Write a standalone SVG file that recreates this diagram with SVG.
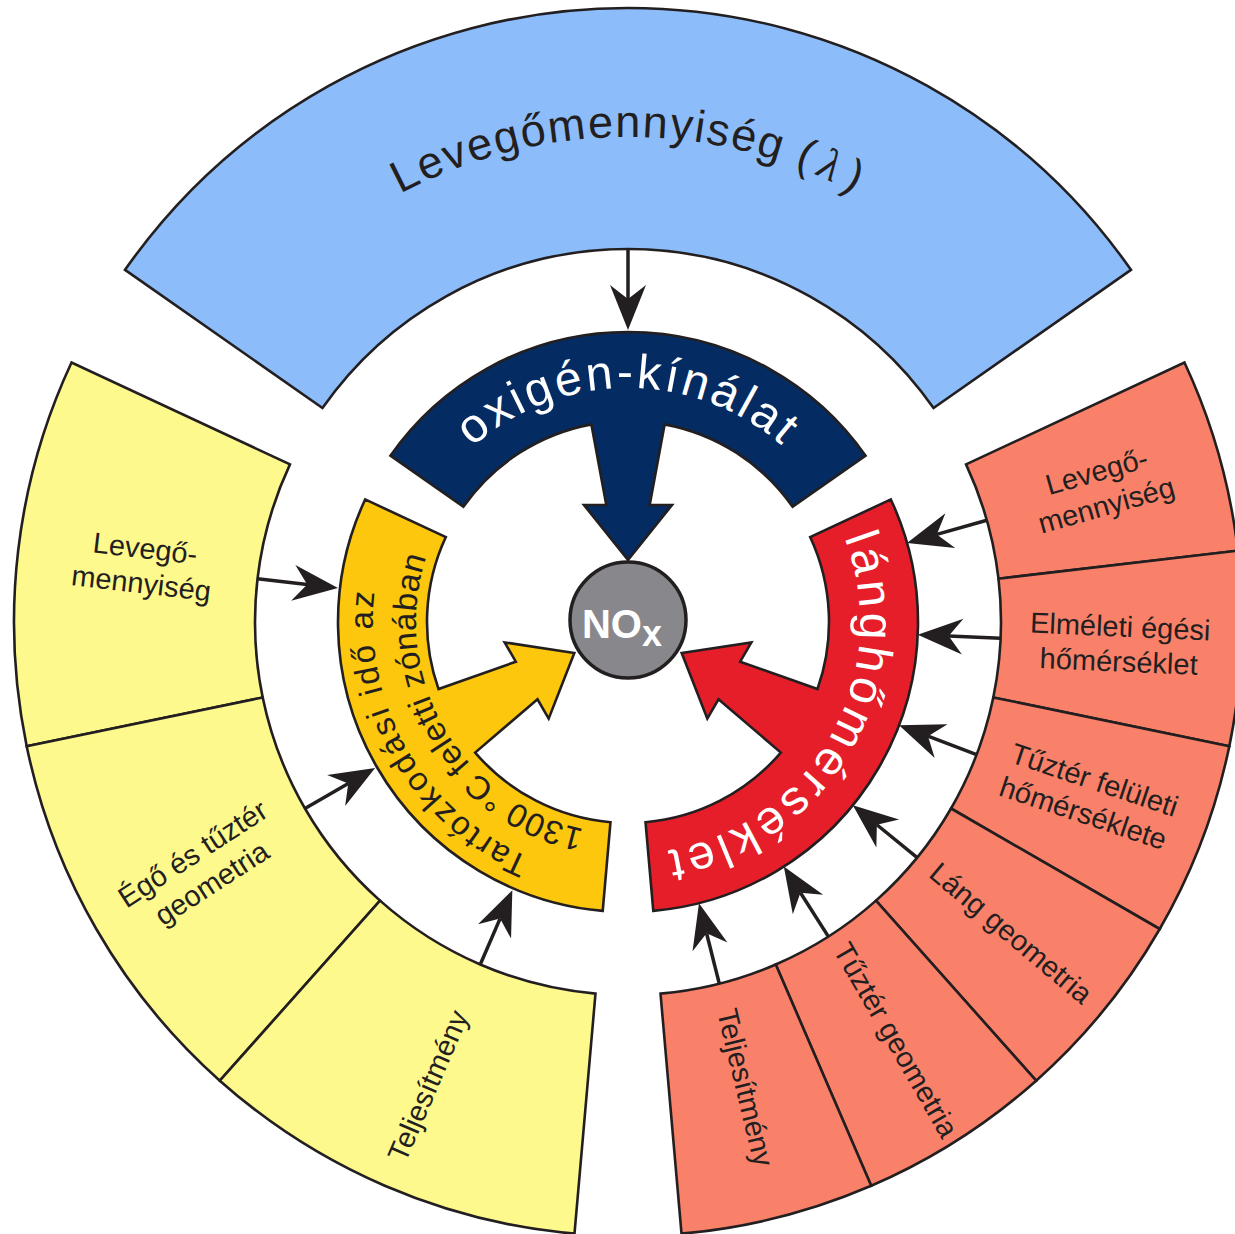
<svg xmlns="http://www.w3.org/2000/svg" xmlns:xlink="http://www.w3.org/1999/xlink" width="1235" height="1234" viewBox="0 0 1235 1234">
<style>
.cell{stroke:#231f20;stroke-width:2.6;stroke-linejoin:miter}
.blue{fill:#8cbdfa}.yel{fill:#fef98c}.sal{fill:#fa8169}
.lbl{font-family:"Liberation Sans",Arial,sans-serif;font-size:29px;fill:#231f20;text-anchor:middle}
.inner{font-family:"Liberation Sans",Arial,sans-serif;font-size:48px;fill:#ffffff}
.gold{font-family:"Liberation Sans",Arial,sans-serif;font-size:33px;fill:#231f20}
.con{stroke:#231f20;stroke-width:3.5;fill:none;marker-end:url(#ah)}
</style>
<defs>
<marker id="ah" viewBox="-46 -19 48 38" refX="-31" refY="0" markerWidth="48" markerHeight="38" markerUnits="userSpaceOnUse" orient="auto">
<path d="M0,0 L-45,-18 L-31,0 L-45,18 Z" fill="#231f20"/>
</marker>
<path id="iband" stroke="#231f20" stroke-width="2.6" stroke-linejoin="miter" d="M-237.55,-166.34 A290,290 0 0 1 237.55,-166.34 L164.65,-115.29 A201,201 0 0 0 36.63,-197.63 L21.69,-117 L44,-117 L0,-62 L-44,-117 L-21.69,-117 L-36.63,-197.63 A201,201 0 0 0 -164.65,-115.29 Z"/>
<path id="tp-top" d="M143,622 A485,485 0 0 1 1113,622"/>
<path id="tp-oxi" d="M394,622 A234,234 0 0 1 862,622"/>
<path id="tp-g1" d="M756,843.70 A256,256 0 0 1 500,400.30"/>
<path id="tp-g2" d="M734,805.60 A212,212 0 0 1 522,438.40"/>
<path id="tp-red" d="M744,420.95 A232,232 0 0 1 512,823.05"/>
</defs>

<g id="levegomennyiseg-lambda">
<path class="cell blue" d="M322.46,408.06 L125.04,269.82 A614,614 0 0 1 1130.96,269.82 L933.54,408.06 A373,373 0 0 0 322.46,408.06 Z"/>
<text font-family="Liberation Sans,Arial,sans-serif" font-size="45" fill="#231f20" letter-spacing="1.8"><textPath href="#tp-top" startOffset="50%" text-anchor="middle">Levegőmennyiség (<tspan font-family="Liberation Serif,serif" font-style="italic" dx="6">λ</tspan><tspan dx="7">)</tspan></textPath></text>
</g>

<g id="y-levego">
<path class="cell yel" d="M262.71,697.43 L26.69,746.16 A614,614 0 0 1 71.53,362.51 L289.95,464.36 A373,373 0 0 0 262.71,697.43 Z"/>
<text class="lbl" transform="translate(143.3,565.3) rotate(6.667)"><tspan x="0" y="-7">Levegő-</tspan><tspan x="0" y="28">mennyiség</tspan></text>
</g>
<g id="y-ego">
<path class="cell yel" d="M380.03,900.64 L219.82,1080.67 A614,614 0 0 1 26.69,746.16 L262.71,697.43 A373,373 0 0 0 380.03,900.64 Z"/>
<text class="lbl" transform="translate(201.9,868) rotate(-33)"><tspan x="0" y="-7">Égő és tűztér</tspan><tspan x="0" y="28">geometria</tspan></text>
</g>
<g id="y-teljesitmeny">
<path class="cell yel" d="M595.49,993.58 L574.49,1233.66 A614,614 0 0 1 219.82,1080.67 L380.03,900.64 A373,373 0 0 0 595.49,993.58 Z"/>
<text class="lbl" transform="translate(428,1085.7) rotate(-66.667)"><tspan x="0" y="10">Teljesítmény</tspan></text>
</g>

<g id="r-levego">
<path class="cell sal" d="M966.05,464.36 L1184.47,362.51 A614,614 0 0 1 1237.85,550.72 L998.48,578.70 A373,373 0 0 0 966.05,464.36 Z"/>
<text class="lbl" transform="translate(1101.3,487.8) rotate(-15.833)"><tspan x="0" y="-7">Levegő-</tspan><tspan x="0" y="28">mennyiség</tspan></text>
</g>
<g id="r-elmeleti">
<path class="cell sal" d="M998.48,578.70 L1237.85,550.72 A614,614 0 0 1 1229.31,746.16 L993.29,697.43 A373,373 0 0 0 998.48,578.70 Z"/>
<text class="lbl" transform="translate(1119.5,643.5) rotate(2.5)"><tspan x="0" y="-7">Elméleti égési</tspan><tspan x="0" y="28">hőmérséklet</tspan></text>
</g>
<g id="r-tuzter-feluleti">
<path class="cell sal" d="M993.29,697.43 L1229.31,746.16 A614,614 0 0 1 1159.74,929 L951.03,808.5 A373,373 0 0 0 993.29,697.43 Z"/>
<text class="lbl" transform="translate(1089,796) rotate(18.5)"><tspan x="0" y="-7">Tűztér felületi</tspan><tspan x="0" y="28">hőmérséklete</tspan></text>
</g>
<g id="r-lang-geometria">
<path class="cell sal" d="M951.03,808.5 L1159.74,929 A614,614 0 0 1 1036.18,1080.67 L875.97,900.64 A373,373 0 0 0 951.03,808.5 Z"/>
<text class="lbl" transform="translate(1011,933) rotate(40)"><tspan x="0" y="10">Láng geometria</tspan></text>
</g>
<g id="r-tuzter-geometria">
<path class="cell sal" d="M875.97,900.64 L1036.18,1080.67 A614,614 0 0 1 871.19,1185.78 L775.74,964.49 A373,373 0 0 0 875.97,900.64 Z"/>
<text class="lbl" transform="translate(896,1040) rotate(60)"><tspan x="0" y="10">Tűztér geometria</tspan></text>
</g>
<g id="r-teljesitmeny">
<path class="cell sal" d="M775.74,964.49 L871.19,1185.78 A614,614 0 0 1 681.51,1233.66 L660.51,993.58 A373,373 0 0 0 775.74,964.49 Z"/>
<text class="lbl" transform="translate(745.5,1087.4) rotate(76.5)"><tspan x="0" y="10">Teljesítmény</tspan></text>
</g>

<g id="oxigen-kinalat">
<use href="#iband" transform="translate(628,622)" fill="#042c62"/>
<text class="inner" letter-spacing="3"><textPath href="#tp-oxi" startOffset="50%" text-anchor="middle">oxigén-kínálat</textPath></text>
</g>
<g id="tartozkodasi-ido">
<use href="#iband" transform="translate(628,622) rotate(-120)" fill="#fcc70c"/>
<text class="gold" letter-spacing="2.6"><textPath href="#tp-g1" startOffset="50%" text-anchor="middle">Tartózkodási idő az</textPath></text>
<text class="gold" letter-spacing="0.5"><textPath href="#tp-g2" startOffset="50%" text-anchor="middle">1300 °C feletti zónában</textPath></text>
</g>
<g id="langhomerseklet">
<use href="#iband" transform="translate(628,622) rotate(120)" fill="#e61e29"/>
<text class="inner" letter-spacing="4.2"><textPath href="#tp-red" startOffset="50%" text-anchor="middle">lánghőmérséklet</textPath></text>
</g>

<g id="nox">
<circle cx="628" cy="620" r="58" fill="#87878c" stroke="#231f20" stroke-width="3.5"/>
<text x="622" y="638" font-family="Liberation Sans,Arial,sans-serif" font-weight="bold" font-size="40" fill="#ffffff" text-anchor="middle">NO<tspan font-size="36" dy="8">x</tspan></text>
</g>

<g id="connectors">
<line class="con" x1="628" y1="249" x2="628" y2="299"/>
<line class="con" x1="257.52" y1="578.70" x2="307.18" y2="584.50"/>
<line class="con" x1="304.97" y1="808.5" x2="348.27" y2="783.5"/>
<line class="con" x1="480.26" y1="964.49" x2="500.06" y2="918.59"/>
<line class="con" x1="986.85" y1="520.23" x2="936.82" y2="534.42"/>
<line class="con" x1="1000.64" y1="638.27" x2="948.69" y2="636.01"/>
<line class="con" x1="976.61" y1="754.66" x2="928.02" y2="736.17"/>
<line class="con" x1="917.19" y1="857.58" x2="876.87" y2="824.74"/>
<line class="con" x1="828.41" y1="936.59" x2="800.47" y2="892.72"/>
<line class="con" x1="719.29" y1="983.66" x2="706.57" y2="933.24"/>
</g>
</svg>
